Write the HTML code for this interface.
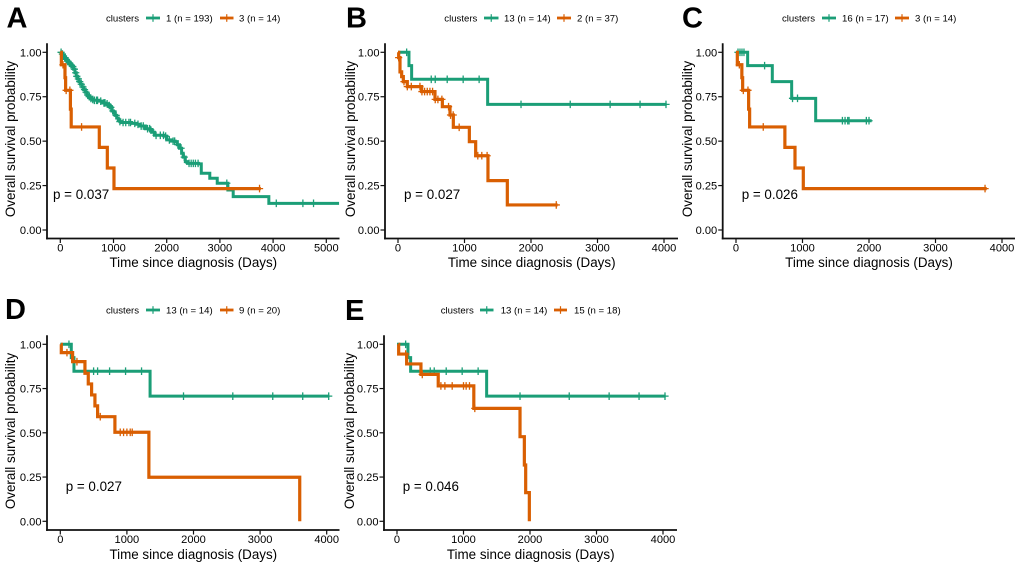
<!DOCTYPE html>
<html>
<head>
<meta charset="utf-8">
<title>Survival curves by cluster</title>
<style>
html,body{margin:0;padding:0;background:#fff;width:1020px;height:566px;overflow:hidden}
svg{display:block;filter:blur(0.35px)}
text{font-family:"Liberation Sans",Arial,sans-serif;fill:#000}
.letter{font-size:29px;font-weight:700}
.leg{font-size:9.6px}
.title{font-size:13.4px;text-anchor:middle}
.p{font-size:13.4px}
.tick{font-size:11.1px}
</style>
</head>
<body>
<svg id="figure" width="1020" height="566" viewBox="0 0 1020 566" xmlns="http://www.w3.org/2000/svg">
<rect width="1020" height="566" fill="#fff"/>

<g id="panel-a">
<text class="letter" x="6.5" y="27.3">A</text>
<text class="leg" x="106" y="21.5">clusters</text>
<text class="leg" x="166" y="21.5">1 (n = 193)</text>
<text class="leg" x="239" y="21.5">3 (n = 14)</text>
<text class="title" x="193.3" y="267">Time since diagnosis (Days)</text>
<text class="title" transform="translate(15,139) rotate(-90)">Overall survival probability</text>
<text class="p" x="53" y="199">p = 0.037</text>
</g>

<g id="panel-b">
<text class="letter" x="346" y="27.3">B</text>
<text class="leg" x="444.3" y="21.5">clusters</text>
<text class="leg" x="504" y="21.5">13 (n = 14)</text>
<text class="leg" x="577" y="21.5">2 (n = 37)</text>
<text class="title" x="531.7" y="267">Time since diagnosis (Days)</text>
<text class="title" transform="translate(355,139) rotate(-90)">Overall survival probability</text>
<text class="p" x="404" y="199">p = 0.027</text>
</g>

<g id="panel-c">
<text class="letter" x="682" y="27.3">C</text>
<text class="leg" x="782" y="21.5">clusters</text>
<text class="leg" x="842" y="21.5">16 (n = 17)</text>
<text class="leg" x="915" y="21.5">3 (n = 14)</text>
<text class="title" x="869" y="267">Time since diagnosis (Days)</text>
<text class="title" transform="translate(692,139) rotate(-90)">Overall survival probability</text>
<text class="p" x="741.7" y="199">p = 0.026</text>
</g>

<g id="panel-d">
<text class="letter" x="5" y="319">D</text>
<text class="leg" x="106" y="313.5">clusters</text>
<text class="leg" x="166" y="313.5">13 (n = 14)</text>
<text class="leg" x="239" y="313.5">9 (n = 20)</text>
<text class="title" x="193.3" y="559">Time since diagnosis (Days)</text>
<text class="title" transform="translate(15,431) rotate(-90)">Overall survival probability</text>
<text class="p" x="65.7" y="491">p = 0.027</text>
</g>

<g id="panel-e">
<text class="letter" x="345" y="320">E</text>
<text class="leg" x="440.7" y="313.5">clusters</text>
<text class="leg" x="500.7" y="313.5">13 (n = 14)</text>
<text class="leg" x="574" y="313.5">15 (n = 18)</text>
<text class="title" x="530.7" y="559">Time since diagnosis (Days)</text>
<text class="title" transform="translate(354,431) rotate(-90)">Overall survival probability</text>
<text class="p" x="402.7" y="491">p = 0.046</text>
</g>
</svg>

<script>
// ---- Chart data (days and survival probabilities) ----
const yTickValues = [0, 0.25, 0.5, 0.75, 1];
const yTickLabels = ["0.00", "0.25", "0.50", "0.75", "1.00"];
const xTicksWide = [0, 1000, 2000, 3000, 4000, 5000];
const xTicksNarrow = [0, 1000, 2000, 3000, 4000];

const a1Times = [0,25,50,75,100,130,160,190,220,250,275,300,325,350,380,410,440,470,500,530,560,590,620,720,800,860,900,940,970,1000,1030,1060,1090,1120,1160,1250,1340,1430,1500,1600,1690,1730,1770,1950,2000,2090,2160,2200,2240,2280,2310,2350,2390,2600,2650,2810,2950,3150,3250,3920,5240];
const a1Surv = [1,0.99,0.98,0.97,0.96,0.95,0.94,0.93,0.92,0.905,0.885,0.865,0.85,0.835,0.82,0.805,0.79,0.775,0.76,0.75,0.74,0.735,0.73,0.725,0.715,0.71,0.70,0.69,0.67,0.66,0.645,0.63,0.62,0.61,0.605,0.605,0.60,0.595,0.585,0.57,0.563,0.55,0.533,0.528,0.507,0.50,0.497,0.48,0.46,0.432,0.41,0.385,0.375,0.372,0.319,0.291,0.263,0.225,0.188,0.15,0.15];
const a1Censor = [15,40,60,90,110,140,170,200,235,265,290,310,340,365,395,425,455,485,515,545,575,610,640,680,700,760,820,840,880,920,950,990,1050,1120,1180,1230,1290,1320,1400,1460,1520,1560,1640,1680,1700,1800,1880,1940,1980,2050,2120,2150,2210,2270,2330,2420,2460,2500,2540,2590,3130,4060,4560,4760];
const a3Times = [0,20,88,100,190,205,733,884,1009,3770];
const a3Surv = [1,0.93,0.857,0.786,0.68,0.58,0.465,0.349,0.233,0.233];
const a3Censor = [50,110,180,400,3745];

const b13Times = [0,165,205,1348,4040];
const b13Surv = [1,0.925,0.848,0.707,0.707];
const b13Censor = [130,500,560,740,980,1220,1850,2590,3190,3640,4030];
const b2Times = [0,10,30,55,80,140,356,556,667,782,832,1073,1168,1353,1644,2400];
const b2Surv = [1,0.97,0.89,0.863,0.835,0.807,0.779,0.735,0.694,0.647,0.578,0.497,0.418,0.278,0.141,0.141];
const b2Censor = [10,90,140,200,330,360,400,440,480,520,560,600,660,760,790,830,920,1200,1260,1340,2380];

const c16Times = [0,175,546,837,1198,2040];
const c16Surv = [1,0.925,0.835,0.741,0.615,0.615];
const c16Censor = [30,60,90,120,430,850,925,1600,1640,1680,1700,1960,2000];
const c3Times = [0,20,88,100,190,205,735,887,1012,3770];
const c3Surv = [1,0.93,0.857,0.786,0.68,0.58,0.465,0.349,0.233,0.233];
const c3Censor = [50,110,180,410,3745];

const d13Times = [0,165,205,1348,4040];
const d13Surv = [1,0.925,0.848,0.707,0.707];
const d13Censor = [130,500,560,740,980,1220,1850,2590,3190,3640,4030];
const d9Times = [10,15,185,370,420,470,520,560,820,1330,3595];
const d9Surv = [1,0.953,0.902,0.836,0.776,0.714,0.652,0.591,0.503,0.249,0];
const d9Censor = [100,250,600,900,950,1000,1050,1080];

const e13Times = [0,165,205,1348,4040];
const e13Surv = [1,0.925,0.848,0.707,0.707];
const e13Censor = [130,500,560,740,980,1220,1850,2590,3190,3640,4030];
const e15Times = [20,25,145,360,620,1155,1850,1915,1935,1990];
const e15Surv = [1,0.945,0.889,0.83,0.765,0.638,0.478,0.318,0.162,0];
const e15Censor = [130,380,660,720,830,1000,1040,1090,1170];

// ---- Drawing ----
const NS = "http://www.w3.org/2000/svg";
const GREEN = "#1B9E77";
const ORANGE = "#D95F02";
const AXIS = "#111";

function make(tag, parent, attrs) {
  const el = document.createElementNS(NS, tag);
  for (const k in attrs) el.setAttribute(k, attrs[k]);
  parent.appendChild(el);
  return el;
}

function survivalAt(times, surv, t) {
  let s = surv[0];
  for (let i = 0; i < times.length; i++) { if (times[i] <= t) s = surv[i]; }
  return s;
}

function drawAxes(g, L, xTicks) {
  const sx = d => L.x0 + d * L.pxPerDay;
  const sy = s => L.yZero - s * (L.yZero - L.yOne);
  const yLine = make("line", g, {x1: L.axisX, x2: L.axisX, y1: L.yOne - 9, y2: L.axisY + 0.9, stroke: AXIS, "stroke-width": 1.8});
  
  
  const xLine = make("line", g, {x1: L.axisX - 0.9, x2: L.right, y1: L.axisY, y2: L.axisY, stroke: AXIS, "stroke-width": 1.8});
  
  
  yTickValues.forEach((v, i) => {
    const tick = make("line", g, {x1: L.axisX - 4.5, x2: L.axisX, y1: sy(v), y2: sy(v), stroke: AXIS, "stroke-width": 1.2});
    
    
    const lab = make("text", g, {class: "tick", x: L.axisX - 5.5, y: sy(v) + 4, "text-anchor": "end"});
    
    
    lab.textContent = yTickLabels[i];
  });
  xTicks.forEach(v => {
    const tick = make("line", g, {x1: sx(v), x2: sx(v), y1: L.axisY, y2: L.axisY + 4.5, stroke: AXIS, "stroke-width": 1.2});
    
    
    const lab = make("text", g, {class: "tick", x: sx(v), y: L.axisY + 13, "text-anchor": "middle"});
    
    
    lab.textContent = String(v);
  });
}

function drawSeries(g, L, times, surv, censor, color, seriesName, width) {
  const sx = d => L.x0 + d * L.pxPerDay;
  const sy = s => L.yZero - s * (L.yZero - L.yOne);
  let d = "M" + sx(times[0]).toFixed(2) + " " + sy(surv[0]).toFixed(2);
  for (let i = 1; i < times.length; i++) {
    d += "H" + sx(times[i]).toFixed(2) + "V" + sy(surv[i]).toFixed(2);
  }
  const line = make("path", g, {d: d, fill: "none", stroke: color, "stroke-width": width, "stroke-linejoin": "miter"});
  
  
  censor.forEach(t => {
    const x = sx(t), y = sy(survivalAt(times, surv, t));
    const mark = make("path", g, {d: "M" + (x - 3.6) + " " + y + "H" + (x + 3.6) + "M" + x + " " + (y - 3.8) + "V" + (y + 3.8), stroke: color, "stroke-width": 1.3, fill: "none"});
    
    
  });
}

function drawLegendKey(g, xa, xb, y, color, keyName) {
  const xm = (xa + xb) / 2;
  const key = make("path", g, {d: "M" + xa + " " + y + "H" + xb, stroke: color, "stroke-width": 2.8, fill: "none"});
  
  
  const plus = make("path", g, {d: "M" + xm + " " + (y - 3.8) + "V" + (y + 3.8), stroke: color, "stroke-width": 1.2, fill: "none"});
  
  
}

const layoutA = {x0: 60.3, pxPerDay: 0.0532, axisX: 47, right: 339.5, yOne: 52.3, yZero: 230, axisY: 238.5};
const layoutB = {x0: 398, pxPerDay: 0.0665, axisX: 385, right: 678, yOne: 52.3, yZero: 230, axisY: 238.5};
const layoutC = {x0: 736, pxPerDay: 0.0665, axisX: 722.7, right: 1015, yOne: 52.3, yZero: 230, axisY: 238.5};
const layoutD = {x0: 60.3, pxPerDay: 0.0666, axisX: 47, right: 339.5, yOne: 344.3, yZero: 521.3, axisY: 530};
const layoutE = {x0: 397, pxPerDay: 0.0665, axisX: 384, right: 677, yOne: 344.3, yZero: 521.3, axisY: 530};

const gA = document.getElementById("panel-a");
drawAxes(gA, layoutA, xTicksWide);
drawSeries(gA, layoutA, a1Times, a1Surv, a1Censor, GREEN, "cluster-1", 3);
drawSeries(gA, layoutA, a3Times, a3Surv, a3Censor, ORANGE, "cluster-3", 3.2);
drawLegendKey(gA, 146, 160, 18, GREEN, "legend-key-cluster-1");
drawLegendKey(gA, 220, 233.5, 18, ORANGE, "legend-key-cluster-3");

const gB = document.getElementById("panel-b");
drawAxes(gB, layoutB, xTicksNarrow);
drawSeries(gB, layoutB, b13Times, b13Surv, b13Censor, GREEN, "cluster-13", 3);
drawSeries(gB, layoutB, b2Times, b2Surv, b2Censor, ORANGE, "cluster-2", 3.2);
drawLegendKey(gB, 484, 498.5, 18, GREEN, "legend-key-cluster-13");
drawLegendKey(gB, 557, 571, 18, ORANGE, "legend-key-cluster-2");

const gC = document.getElementById("panel-c");
drawAxes(gC, layoutC, xTicksNarrow);
drawSeries(gC, layoutC, c16Times, c16Surv, c16Censor, GREEN, "cluster-16", 3);
drawSeries(gC, layoutC, c3Times, c3Surv, c3Censor, ORANGE, "cluster-3", 3.2);
drawLegendKey(gC, 822, 836, 18, GREEN, "legend-key-cluster-16");
drawLegendKey(gC, 895, 909, 18, ORANGE, "legend-key-cluster-3");

const gD = document.getElementById("panel-d");
drawAxes(gD, layoutD, xTicksNarrow);
drawSeries(gD, layoutD, d13Times, d13Surv, d13Censor, GREEN, "cluster-13", 3);
drawSeries(gD, layoutD, d9Times, d9Surv, d9Censor, ORANGE, "cluster-9", 3.2);
drawLegendKey(gD, 146, 160, 310, GREEN, "legend-key-cluster-13");
drawLegendKey(gD, 220, 233.5, 310, ORANGE, "legend-key-cluster-9");

const gE = document.getElementById("panel-e");
drawAxes(gE, layoutE, xTicksNarrow);
drawSeries(gE, layoutE, e13Times, e13Surv, e13Censor, GREEN, "cluster-13", 3);
drawSeries(gE, layoutE, e15Times, e15Surv, e15Censor, ORANGE, "cluster-15", 3.2);
drawLegendKey(gE, 480, 493.5, 310, GREEN, "legend-key-cluster-13");
drawLegendKey(gE, 554, 567, 310, ORANGE, "legend-key-cluster-15");
</script>
</body>
</html>
